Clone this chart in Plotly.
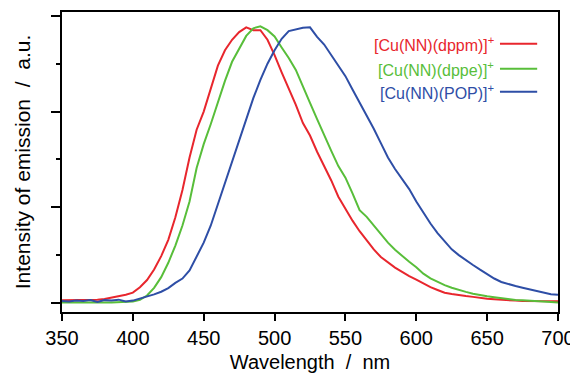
import plotly.graph_objects as go

wavelength = list(range(350, 701, 5))

dppm = [0.030, 0.030, 0.030, 0.030, 0.032, 0.034, 0.042, 0.055, 0.068, 0.087,
        0.108, 0.164, 0.240, 0.350, 0.490, 0.660, 0.895, 1.180, 1.520, 1.810,
        2.000, 2.240, 2.480, 2.640, 2.750, 2.830, 2.880, 2.850, 2.850, 2.750,
        2.590, 2.410, 2.240, 2.070, 1.880, 1.750, 1.580, 1.430, 1.280, 1.110,
        0.980, 0.860, 0.750, 0.650, 0.560, 0.480, 0.425, 0.370, 0.325, 0.280,
        0.245, 0.207, 0.165, 0.136, 0.108, 0.095, 0.081, 0.073, 0.064, 0.053,
        0.045, 0.039, 0.032, 0.028, 0.025, 0.022, 0.020, 0.019, 0.018, 0.017,
        0.017]

dppe = [0.005, 0.004, 0.005, 0.004, 0.005, 0.004, 0.005, 0.006, 0.007, 0.010,
        0.016, 0.034, 0.078, 0.158, 0.270, 0.420, 0.600, 0.810, 1.060, 1.410,
        1.660, 1.870, 2.100, 2.320, 2.520, 2.660, 2.790, 2.870, 2.890, 2.850,
        2.785, 2.670, 2.560, 2.435, 2.270, 2.090, 1.920, 1.750, 1.590, 1.430,
        1.310, 1.146, 0.970, 0.900, 0.810, 0.710, 0.630, 0.556, 0.490, 0.430,
        0.374, 0.306, 0.258, 0.222, 0.187, 0.160, 0.136, 0.116, 0.097, 0.081,
        0.071, 0.060, 0.050, 0.038, 0.032, 0.029, 0.026, 0.021, 0.016, 0.010,
        0.006]

pop = [0.020, 0.015, 0.025, 0.020, 0.030, 0.010, 0.030, 0.025, 0.035, 0.015,
       0.025, 0.045, 0.070, 0.090, 0.118, 0.155, 0.210, 0.255, 0.340, 0.480,
       0.630, 0.810, 1.030, 1.270, 1.490, 1.700, 1.920, 2.140, 2.330, 2.500,
       2.640, 2.760, 2.840, 2.860, 2.875, 2.880, 2.780, 2.700, 2.590, 2.480,
       2.370, 2.230, 2.095, 1.966, 1.820, 1.670, 1.520, 1.400, 1.300, 1.190,
       1.060, 0.940, 0.830, 0.730, 0.640, 0.560, 0.500, 0.446, 0.397, 0.348,
       0.300, 0.256, 0.220, 0.196, 0.177, 0.160, 0.141, 0.123, 0.105, 0.092,
       0.087]

names = ["[Cu(NN)(dppm)]<sup>+</sup>", "[Cu(NN)(dppe)]<sup>+</sup>", "[Cu(NN)(POP)]<sup>+</sup>"]
colors = ["#e8262d", "#58be3a", "#2e4ea6"]
series = [dppm, dppe, pop]

fig = go.Figure()
for s, c, n in zip(series, colors, names):
    fig.add_trace(go.Scatter(x=wavelength, y=s, mode="lines", name=n,
                             line=dict(color=c, width=2), showlegend=False))

font = "Liberation Sans, Arial, sans-serif"
legend_y = [0.894, 0.811, 0.734]
for n, c, yy in zip(names, colors, legend_y):
    fig.add_annotation(xref="paper", yref="paper", x=0.876, y=yy, text=n,
                       showarrow=False, xanchor="right", yanchor="middle",
                       font=dict(family=font, size=16, color=c))
    fig.add_shape(type="line", xref="paper", yref="paper", x0=0.883, x1=0.958,
                  y0=yy, y1=yy, line=dict(color=c, width=2))

fig.update_layout(
    template="none",
    width=570, height=365,
    margin=dict(l=54, r=20, t=4, b=61),
    paper_bgcolor="white", plot_bgcolor="white",
    font=dict(family=font, size=20, color="black"),
)
fig.update_xaxes(range=[350, 700], tick0=350, dtick=50, ticks="outside", ticklen=7,
                 tickwidth=1.5, tickcolor="black", showline=True, linewidth=1.5,
                 linecolor="black", mirror=True, showgrid=False, zeroline=False,
                 automargin=False, tickfont=dict(size=20),
                 title=dict(text="Wavelength\u00a0\u00a0/\u00a0\u00a0nm", font=dict(size=20), standoff=10))
fig.update_yaxes(range=[-0.094, 3.04], tick0=0, dtick=1, ticks="outside", ticklen=9,
                 tickwidth=1.5, tickcolor="black", showticklabels=False,
                 showline=True, linewidth=1.5, linecolor="black", mirror=True,
                 showgrid=False, zeroline=False, automargin=False,
                 minor=dict(tick0=0, dtick=0.5, ticks="outside", ticklen=4,
                            tickwidth=1.5, tickcolor="black", showgrid=False),
                 title=dict(text="Intensity of emission\u00a0\u00a0/\u00a0\u00a0a.u.",
                            font=dict(size=21), standoff=15))

fig.write_html("out.html")
